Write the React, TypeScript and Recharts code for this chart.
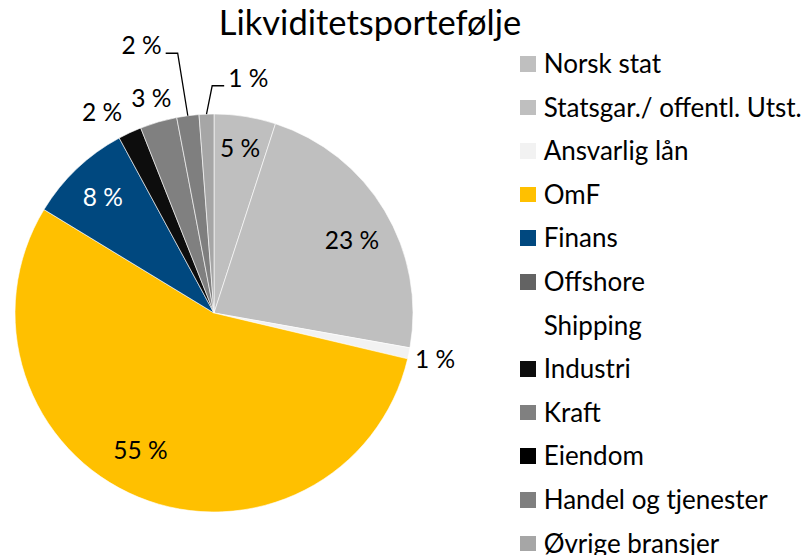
import React from 'react';
import { PieChart, Pie, Cell, Legend } from 'recharts';

const categories = [
  'Norsk stat',
  'Statsgar./ offentl. Utst.',
  'Ansvarlig lån',
  'OmF',
  'Finans',
  'Offshore\nShipping',
  'Industri',
  'Kraft',
  'Eiendom',
  'Handel og tjenester',
  'Øvrige bransjer',
];
const shares = [5.0, 22.8, 0.9, 55.0, 8.4, 0, 1.9, 3.0, 0, 1.8, 1.2];
const colors = [
  '#bfbfbf', '#bfbfbf', '#f2f2f2', '#ffc000', '#00487f', '#636363',
  '#0d0d0d', '#808080', '#000000', '#7f7f7f', '#a6a6a6',
];

const chartData = categories.map((name, i) => ({ name, value: shares[i] }));

const FONT = 'Lato, "Noto Sans", sans-serif';
const RAD = Math.PI / 180;

// where each slice label goes: radius factor, clockwise angle shift, optional leader side
const labelPlacement: Record<number, { r: number; da: number; fill?: string; leader?: 'left' | 'right' }> = {
  0: { r: 0.84, da: 0 },
  1: { r: 0.785, da: 3 },
  2: { r: 1.135, da: 0 },
  3: { r: 0.78, da: 6 },
  4: { r: 0.81, da: 0, fill: '#ffffff' },
  6: { r: 1.16, da: -4 },
  7: { r: 1.13, da: 0 },
  9: { r: 1.318, da: -0.4, leader: 'left' },
  10: { r: 1.142, da: 1.7, leader: 'right' },
};

const polar = (cx: number, cy: number, r: number, clock: number) => ({
  x: cx + r * Math.sin(clock * RAD),
  y: cy - r * Math.cos(clock * RAD),
});

const renderLabel = (props: any) => {
  const { cx, cy, midAngle, outerRadius, percent, index } = props;
  const place = labelPlacement[index];
  if (!place || !percent) return null;
  const text = `${Math.round(percent * 100)} %`;
  const clock = 90 - midAngle;
  const p = polar(cx, cy, outerRadius * place.r, clock + place.da);
  const style = { fontFamily: FONT, fontSize: 24.5 };

  if (place.leader) {
    const edge = polar(cx, cy, outerRadius, clock);
    const dir = place.leader === 'left' ? -1 : 1;
    const endX = p.x + dir * 12;
    return (
      <g>
        <polyline
          points={`${edge.x},${edge.y} ${p.x},${p.y} ${endX},${p.y}`}
          fill="none"
          stroke="#000"
          strokeWidth={1.3}
        />
        <text
          x={endX + dir * 4}
          y={p.y - 8.5}
          textAnchor={dir < 0 ? 'end' : 'start'}
          dominantBaseline="central"
          fill="#000"
          style={style}
        >
          {text}
        </text>
      </g>
    );
  }

  return (
    <text
      x={p.x}
      y={p.y}
      textAnchor="middle"
      dominantBaseline="central"
      fill={place.fill || '#000'}
      style={style}
    >
      {text}
    </text>
  );
};

const LegendList = () => (
  <div style={{ fontFamily: FONT, fontSize: 26, lineHeight: '43.6px', color: '#000' }}>
    {categories.map((name, i) => (
      <div key={name} style={{ display: 'flex', alignItems: 'flex-start' }}>
        <span
          style={{
            width: 15.7,
            height: 15.7,
            flex: '0 0 auto',
            background: colors[i],
            marginTop: 14,
            marginRight: 8,
          }}
        />
        <span style={{ whiteSpace: 'pre-line' }}>{name}</span>
      </div>
    ))}
  </div>
);

export default function App() {
  return (
    <div style={{ position: 'absolute', left: 0, top: 0, width: 805, height: 555, background: '#fff' }}>
      <div
        style={{
          position: 'absolute',
          left: 170,
          width: 400,
          top: 2,
          textAlign: 'center',
          fontFamily: FONT,
          fontSize: 34.5,
          lineHeight: '40px',
          color: '#000',
        }}
      >
        Likviditetsportefølje
      </div>
      <PieChart width={805} height={555} margin={{ top: 0, right: 0, bottom: 0, left: 0 }}>
        <Pie
          data={chartData}
          dataKey="value"
          nameKey="name"
          cx={214}
          cy={313}
          outerRadius={199}
          startAngle={90}
          endAngle={-270}
          stroke="#ffffff"
          strokeWidth={0.6}
          label={renderLabel}
          labelLine={false}
          isAnimationActive={false}
        >
          {chartData.map((d, i) => (
            <Cell key={d.name} fill={colors[i]} />
          ))}
        </Pie>
        <Legend
          layout="vertical"
          align="right"
          verticalAlign="top"
          content={<LegendList />}
          wrapperStyle={{ left: 520, top: 42, width: 285 }}
        />
      </PieChart>
    </div>
  );
}
